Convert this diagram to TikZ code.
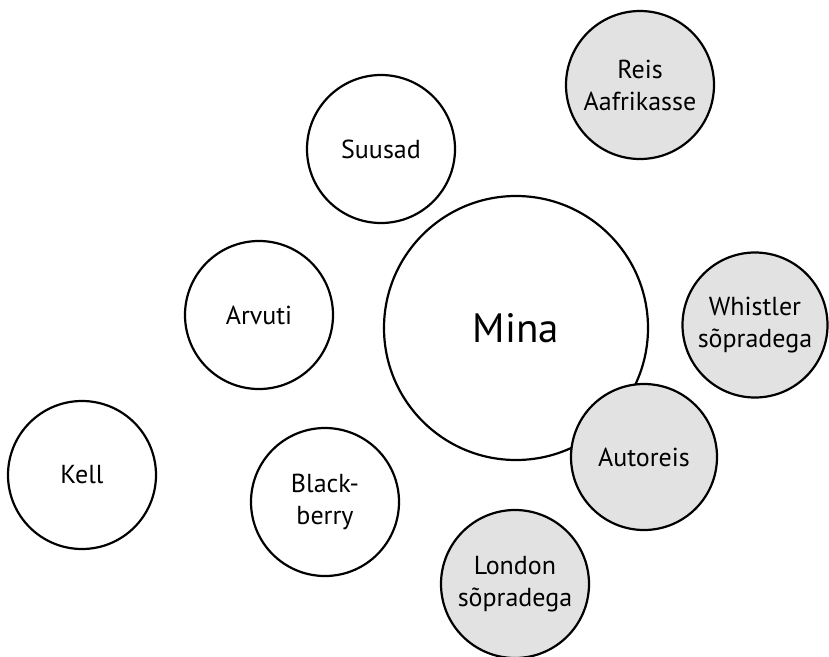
\documentclass[tikz,border=0pt]{standalone}
\usepackage{fontspec}
\setmainfont{PT Sans}
\definecolor{bubblegray}{HTML}{E2E2E2}
\begin{document}
\begin{tikzpicture}[x=1pt,y=-1pt,
  bubble/.style={circle,draw=black,line width=2.2pt,fill=white,inner sep=0pt,
    minimum size=148pt,align=center,font=\fontsize{26}{32}\selectfont,text=black},
  graybubble/.style={bubble,fill=bubblegray}]
\useasboundingbox (0,0) rectangle (829,656);
\node[bubble] (kell) at (82,475) {Kell};
\node[bubble] (arvuti) at (259,315) {Arvuti};
\node[bubble] (suusad) at (381,149) {Suusad};
\node[bubble] (blackberry) at (325,502) {Black-\\berry};
\node[bubble,minimum size=264pt,font=\fontsize{41}{48}\selectfont] (mina) at (516,328) {Mina};
\node[graybubble] (reis) at (640,85) {Reis\\Aafrikasse};
\node[graybubble,minimum size=145pt] (whistler) at (755,325) {Whistler\\sõpradega};
\node[graybubble,minimum size=146pt] (autoreis) at (644,457) {Autoreis};
\node[graybubble] (london) at (515,584) {London\\sõpradega};
\end{tikzpicture}
\end{document}
